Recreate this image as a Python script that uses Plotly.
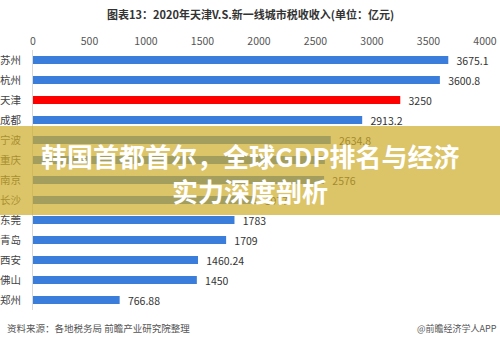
import plotly.graph_objects as go

cities = ["苏州", "杭州", "天津", "成都", "宁波", "重庆", "南京", "长沙", "东莞", "青岛", "西安", "佛山", "郑州"]
values = [3675.1, 3600.8, 3250, 2913.2, 2634.8, 2583, 2576, 1977, 1783, 1709, 1460.24, 1450, 766.88]
labels = ["3675.1", "3600.8", "3250", "2913.2", "2634.8", "", "2576", "1977", "1783", "1709", "1460.24", "1450", "766.88"]
x_ticks = [0, 500, 1000, 1500, 2000, 2500, 3000, 3500, 4000]

BLUE = "#3B7DDB"
RED = "#FF0000"
colors = [RED if c == "天津" else BLUE for c in cities]
FONT = "Noto Sans CJK SC"

fig = go.Figure(go.Bar(
    y=cities, x=values, orientation="h",
    marker=dict(color=colors, line=dict(width=0)),
    width=0.4,
    text=labels, textposition="outside",
    texttemplate="\u2002%{text}",
    textfont=dict(size=10.5, color="#333333", family=FONT),
    constraintext="none",
    cliponaxis=False,
))

L, R, T, B = 33, 15, 50, 32
H = 342 - T - B
W = 500 - L - R

def py(p):
    return (342 - B - p) / H

def px(p):
    return (p - L) / W

fig.update_layout(
    width=500, height=342,
    margin=dict(l=L, r=R, t=T, b=B, autoexpand=False),
    paper_bgcolor="white", plot_bgcolor="white",
    showlegend=False,
    font=dict(family=FONT),
    xaxis=dict(
        side="top", range=[0, 4000], tickvals=x_ticks,
        showgrid=False, zeroline=False, showline=False,
        tickfont=dict(size=10.5, color="#555555", family=FONT),
        ticks="", ticklabelstandoff=2, automargin=False,
    ),
    yaxis=dict(
        categoryorder="array", categoryarray=cities[::-1],
        showgrid=False, zeroline=False,
        showline=True, linecolor="#D9D9D9", linewidth=1,
        tickfont=dict(size=10.5, color="#444444", family=FONT),
        ticks="", ticklabelstandoff=9, automargin=False,
    ),
)

annotations = [
    dict(text="<b>图表13：2020年天津V.S.新一线城市税收收入(单位：亿元)</b>",
         x=px(250), y=py(14), xref="paper", yref="paper",
         showarrow=False, font=dict(size=11, color="#333333", family=FONT),
         xanchor="center", yanchor="middle"),
    dict(text="资料来源：各地税务局 前瞻产业研究院整理",
         x=px(5), y=py(328), xref="paper", yref="paper",
         showarrow=False, font=dict(size=9.5, color="#555555", family=FONT),
         xanchor="left", yanchor="middle"),
    dict(text="@前瞻经济学人APP",
         x=px(499), y=py(328), xref="paper", yref="paper",
         showarrow=False, font=dict(size=9, color="#555555", family=FONT),
         xanchor="right", yanchor="middle"),
    dict(text="<b>韩国首都首尔，全球GDP排名与经济</b>",
         x=px(250), y=py(155), xref="paper", yref="paper",
         showarrow=False, font=dict(size=26, color="white", family=FONT),
         xanchor="center", yanchor="middle"),
    dict(text="<b>实力深度剖析</b>",
         x=px(250), y=py(190), xref="paper", yref="paper",
         showarrow=False, font=dict(size=26, color="white", family=FONT),
         xanchor="center", yanchor="middle"),
]
fig.update_layout(annotations=annotations)

fig.add_shape(type="rect", xref="paper", yref="paper",
              x0=px(0), x1=px(500), y0=py(215), y1=py(126),
              fillcolor="rgba(206,172,42,0.71)", line=dict(width=0), layer="above")

fig.write_html("out.html")
